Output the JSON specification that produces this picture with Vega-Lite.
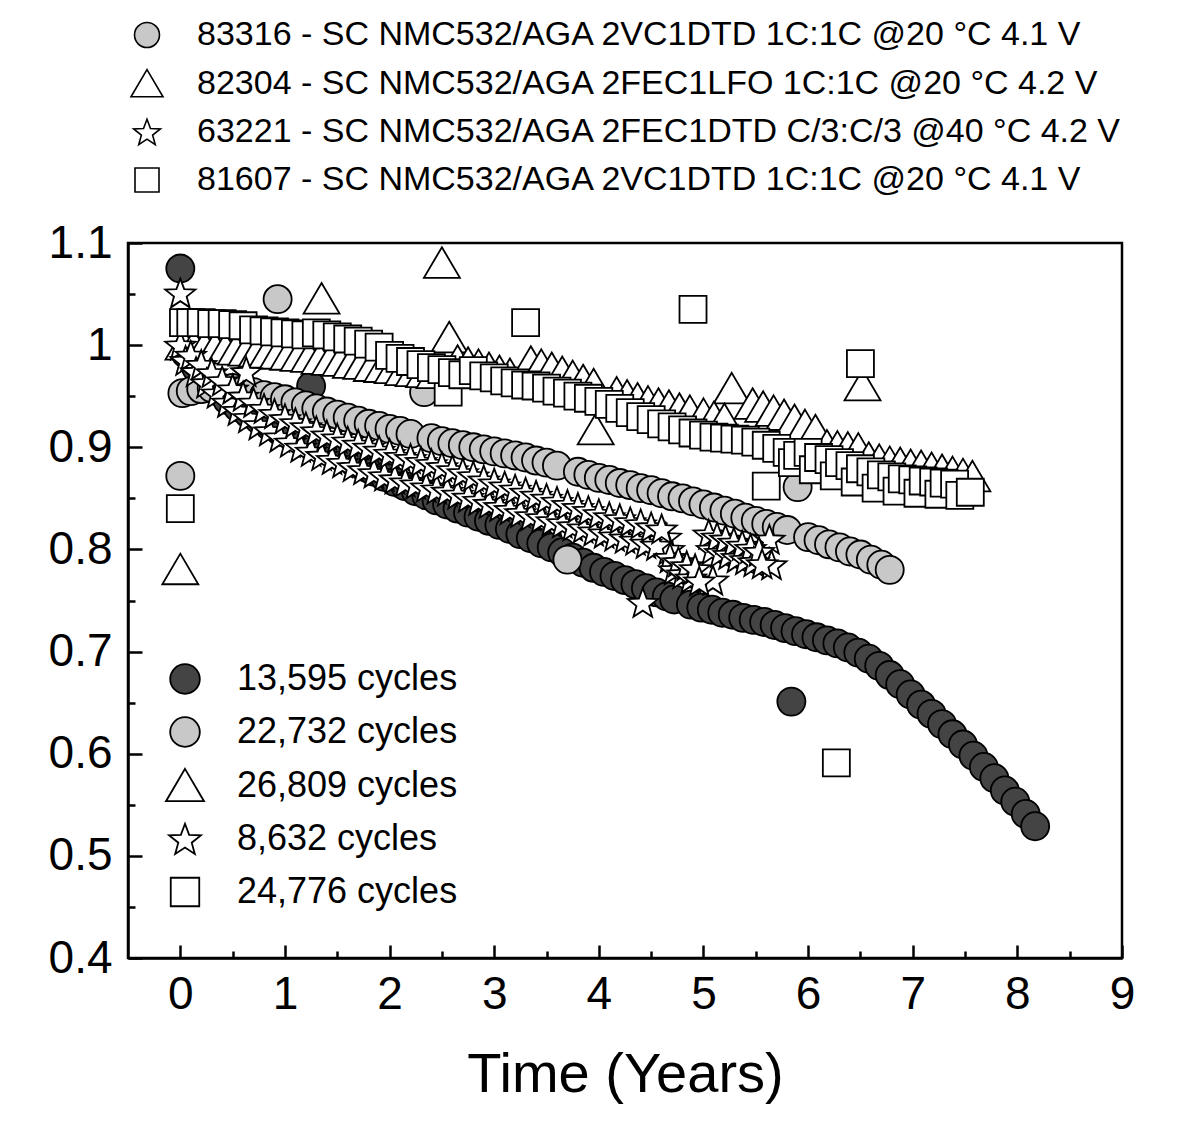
{
  "$schema": "https://vega.github.io/schema/vega-lite/v6.json",
  "description": "Capacity retention versus time for five cells",
  "width": 994,
  "height": 715,
  "autosize": {"type": "none"},
  "padding": {"left": 128, "top": 243, "right": 78, "bottom": 171},
  "background": "white",
  "data": {
    "values": [
      {"s":"a","t":0,"v":1.075},{"s":"a","t":1.25,"v":0.96},{"s":"a","t":5.84,"v":0.651},
      {"s":"a","t":0.05,"v":0.992},{"s":"a","t":0.15,"v":0.978},{"s":"a","t":0.25,"v":0.965},{"s":"a","t":0.35,"v":0.955},
      {"s":"a","t":0.45,"v":0.946},{"s":"a","t":0.55,"v":0.939},{"s":"a","t":0.65,"v":0.933},{"s":"a","t":0.75,"v":0.927},
      {"s":"a","t":0.85,"v":0.921},{"s":"a","t":0.95,"v":0.916},{"s":"a","t":1.05,"v":0.912},{"s":"a","t":1.15,"v":0.907},
      {"s":"a","t":1.35,"v":0.899},{"s":"a","t":1.45,"v":0.895},{"s":"a","t":1.55,"v":0.891},{"s":"a","t":1.65,"v":0.886},
      {"s":"a","t":1.75,"v":0.881},{"s":"a","t":1.85,"v":0.876},{"s":"a","t":1.95,"v":0.871},{"s":"a","t":2.05,"v":0.866},
      {"s":"a","t":2.15,"v":0.862},{"s":"a","t":2.25,"v":0.857},{"s":"a","t":2.35,"v":0.853},{"s":"a","t":2.45,"v":0.848},
      {"s":"a","t":2.55,"v":0.844},{"s":"a","t":2.65,"v":0.84},{"s":"a","t":2.75,"v":0.836},{"s":"a","t":2.85,"v":0.832},
      {"s":"a","t":2.95,"v":0.828},{"s":"a","t":3.05,"v":0.824},{"s":"a","t":3.15,"v":0.82},{"s":"a","t":3.25,"v":0.815},
      {"s":"a","t":3.35,"v":0.811},{"s":"a","t":3.45,"v":0.806},{"s":"a","t":3.55,"v":0.802},{"s":"a","t":3.65,"v":0.797},
      {"s":"a","t":3.75,"v":0.792},{"s":"a","t":3.85,"v":0.787},{"s":"a","t":3.95,"v":0.782},{"s":"a","t":4.05,"v":0.778},
      {"s":"a","t":4.15,"v":0.774},{"s":"a","t":4.25,"v":0.77},{"s":"a","t":4.35,"v":0.766},{"s":"a","t":4.45,"v":0.762},
      {"s":"a","t":4.55,"v":0.758},{"s":"a","t":4.65,"v":0.754},{"s":"a","t":4.72,"v":0.751},{"s":"a","t":4.88,"v":0.746},
      {"s":"a","t":4.98,"v":0.743},{"s":"a","t":5.08,"v":0.741},{"s":"a","t":5.18,"v":0.738},{"s":"a","t":5.28,"v":0.736},
      {"s":"a","t":5.38,"v":0.733},{"s":"a","t":5.48,"v":0.731},{"s":"a","t":5.58,"v":0.729},{"s":"a","t":5.68,"v":0.726},
      {"s":"a","t":5.78,"v":0.723},{"s":"a","t":5.88,"v":0.72},{"s":"a","t":5.98,"v":0.717},{"s":"a","t":6.08,"v":0.714},
      {"s":"a","t":6.18,"v":0.711},{"s":"a","t":6.28,"v":0.708},{"s":"a","t":6.38,"v":0.704},{"s":"a","t":6.48,"v":0.699},
      {"s":"a","t":6.58,"v":0.693},{"s":"a","t":6.68,"v":0.686},{"s":"a","t":6.78,"v":0.677},{"s":"a","t":6.88,"v":0.668},
      {"s":"a","t":6.98,"v":0.658},{"s":"a","t":7.08,"v":0.648},{"s":"a","t":7.18,"v":0.639},{"s":"a","t":7.28,"v":0.629},
      {"s":"a","t":7.38,"v":0.619},{"s":"a","t":7.48,"v":0.609},{"s":"a","t":7.58,"v":0.598},{"s":"a","t":7.68,"v":0.587},
      {"s":"a","t":7.78,"v":0.576},{"s":"a","t":7.88,"v":0.564},{"s":"a","t":7.98,"v":0.553},{"s":"a","t":8.08,"v":0.541},
      {"s":"a","t":8.17,"v":0.529},

      {"s":"b","t":0,"v":0.872},{"s":"b","t":0.93,"v":1.045},{"s":"b","t":2.33,"v":0.954},{"s":"b","t":3.7,"v":0.79},{"s":"b","t":5.9,"v":0.861},
      {"s":"b","t":0.02,"v":0.953},{"s":"b","t":0.1,"v":0.955},{"s":"b","t":0.2,"v":0.957},{"s":"b","t":0.3,"v":0.958},
      {"s":"b","t":0.4,"v":0.958},{"s":"b","t":0.5,"v":0.958},{"s":"b","t":0.6,"v":0.956},{"s":"b","t":0.7,"v":0.954},
      {"s":"b","t":0.8,"v":0.951},{"s":"b","t":0.9,"v":0.949},{"s":"b","t":1.0,"v":0.947},{"s":"b","t":1.1,"v":0.944},
      {"s":"b","t":1.2,"v":0.941},{"s":"b","t":1.3,"v":0.938},{"s":"b","t":1.4,"v":0.935},{"s":"b","t":1.5,"v":0.932},
      {"s":"b","t":1.6,"v":0.929},{"s":"b","t":1.7,"v":0.926},{"s":"b","t":1.8,"v":0.923},{"s":"b","t":1.9,"v":0.921},
      {"s":"b","t":2.0,"v":0.918},{"s":"b","t":2.1,"v":0.916},{"s":"b","t":2.2,"v":0.913},{"s":"b","t":2.4,"v":0.909},
      {"s":"b","t":2.5,"v":0.906},{"s":"b","t":2.6,"v":0.904},{"s":"b","t":2.7,"v":0.902},{"s":"b","t":2.8,"v":0.9},
      {"s":"b","t":2.9,"v":0.898},{"s":"b","t":3.0,"v":0.896},{"s":"b","t":3.1,"v":0.894},{"s":"b","t":3.2,"v":0.892},
      {"s":"b","t":3.3,"v":0.89},{"s":"b","t":3.4,"v":0.887},{"s":"b","t":3.5,"v":0.885},{"s":"b","t":3.6,"v":0.882},
      {"s":"b","t":3.8,"v":0.876},{"s":"b","t":3.9,"v":0.873},{"s":"b","t":4.0,"v":0.87},{"s":"b","t":4.1,"v":0.868},
      {"s":"b","t":4.2,"v":0.865},{"s":"b","t":4.3,"v":0.863},{"s":"b","t":4.4,"v":0.86},{"s":"b","t":4.5,"v":0.858},
      {"s":"b","t":4.6,"v":0.855},{"s":"b","t":4.7,"v":0.852},{"s":"b","t":4.8,"v":0.85},{"s":"b","t":4.9,"v":0.847},
      {"s":"b","t":5.0,"v":0.844},{"s":"b","t":5.1,"v":0.841},{"s":"b","t":5.2,"v":0.838},{"s":"b","t":5.3,"v":0.835},
      {"s":"b","t":5.4,"v":0.831},{"s":"b","t":5.5,"v":0.828},{"s":"b","t":5.6,"v":0.825},{"s":"b","t":5.7,"v":0.822},
      {"s":"b","t":5.8,"v":0.819},{"s":"b","t":6.0,"v":0.812},{"s":"b","t":6.1,"v":0.809},{"s":"b","t":6.2,"v":0.805},
      {"s":"b","t":6.3,"v":0.802},{"s":"b","t":6.4,"v":0.798},{"s":"b","t":6.5,"v":0.795},{"s":"b","t":6.6,"v":0.79},
      {"s":"b","t":6.7,"v":0.785},{"s":"b","t":6.78,"v":0.78},

      {"s":"c","t":0,"v":0.78},{"s":"c","t":1.35,"v":1.045},{"s":"c","t":2.5,"v":1.08},{"s":"c","t":2.57,"v":1.007},
      {"s":"c","t":3.97,"v":0.917},{"s":"c","t":5.27,"v":0.957},{"s":"c","t":6.52,"v":0.96},
      {"s":"c","t":0.03,"v":1.0},{"s":"c","t":0.13,"v":0.999},{"s":"c","t":0.23,"v":0.998},{"s":"c","t":0.33,"v":0.997},
      {"s":"c","t":0.43,"v":0.996},{"s":"c","t":0.53,"v":0.995},{"s":"c","t":0.63,"v":0.994},{"s":"c","t":0.73,"v":0.993},
      {"s":"c","t":0.83,"v":0.992},{"s":"c","t":0.93,"v":0.991},{"s":"c","t":1.03,"v":0.99},{"s":"c","t":1.13,"v":0.989},
      {"s":"c","t":1.23,"v":0.988},{"s":"c","t":1.33,"v":0.986},{"s":"c","t":1.43,"v":0.985},{"s":"c","t":1.53,"v":0.984},
      {"s":"c","t":1.63,"v":0.982},{"s":"c","t":1.73,"v":0.981},{"s":"c","t":1.83,"v":0.979},{"s":"c","t":1.93,"v":0.978},
      {"s":"c","t":2.03,"v":0.977},{"s":"c","t":2.13,"v":0.975},{"s":"c","t":2.23,"v":0.974},{"s":"c","t":2.33,"v":0.973},
      {"s":"c","t":2.43,"v":0.972},{"s":"c","t":2.65,"v":0.984},{"s":"c","t":2.75,"v":0.982},{"s":"c","t":2.85,"v":0.98},
      {"s":"c","t":2.95,"v":0.977},{"s":"c","t":3.05,"v":0.974},{"s":"c","t":3.15,"v":0.971},{"s":"c","t":3.35,"v":0.983},
      {"s":"c","t":3.45,"v":0.98},{"s":"c","t":3.55,"v":0.977},{"s":"c","t":3.65,"v":0.973},{"s":"c","t":3.75,"v":0.969},
      {"s":"c","t":3.85,"v":0.965},{"s":"c","t":3.95,"v":0.961},{"s":"c","t":4.17,"v":0.953},{"s":"c","t":4.27,"v":0.95},
      {"s":"c","t":4.37,"v":0.947},{"s":"c","t":4.47,"v":0.944},{"s":"c","t":4.57,"v":0.942},{"s":"c","t":4.67,"v":0.94},
      {"s":"c","t":4.77,"v":0.937},{"s":"c","t":4.87,"v":0.935},{"s":"c","t":5.0,"v":0.932},{"s":"c","t":5.1,"v":0.929},
      {"s":"c","t":5.2,"v":0.927},{"s":"c","t":5.47,"v":0.942},{"s":"c","t":5.57,"v":0.939},{"s":"c","t":5.67,"v":0.935},
      {"s":"c","t":5.77,"v":0.931},{"s":"c","t":5.87,"v":0.926},{"s":"c","t":5.97,"v":0.921},{"s":"c","t":6.07,"v":0.916},
      {"s":"c","t":6.18,"v":0.901},{"s":"c","t":6.28,"v":0.9},{"s":"c","t":6.38,"v":0.899},{"s":"c","t":6.48,"v":0.898},
      {"s":"c","t":6.58,"v":0.889},{"s":"c","t":6.68,"v":0.887},{"s":"c","t":6.78,"v":0.885},{"s":"c","t":6.88,"v":0.884},
      {"s":"c","t":6.98,"v":0.882},{"s":"c","t":7.08,"v":0.881},{"s":"c","t":7.18,"v":0.879},{"s":"c","t":7.28,"v":0.877},
      {"s":"c","t":7.38,"v":0.875},{"s":"c","t":7.48,"v":0.873},{"s":"c","t":7.57,"v":0.871},

      {"s":"d","t":0,"v":1.051},{"s":"d","t":0.63,"v":0.974},{"s":"d","t":4.42,"v":0.748},{"s":"d","t":4.64,"v":0.812},
      {"s":"d","t":4.67,"v":0.8},{"s":"d","t":5.09,"v":0.77},{"s":"d","t":5.63,"v":0.81},{"s":"d","t":5.65,"v":0.785},
      {"s":"d","t":0.0,"v":1.0},{"s":"d","t":0.05,"v":0.985},{"s":"d","t":0.1,"v":0.99},{"s":"d","t":0.15,"v":0.974},
      {"s":"d","t":0.2,"v":0.981},{"s":"d","t":0.25,"v":0.963},{"s":"d","t":0.3,"v":0.973},{"s":"d","t":0.35,"v":0.953},
      {"s":"d","t":0.4,"v":0.965},{"s":"d","t":0.45,"v":0.944},{"s":"d","t":0.5,"v":0.957},{"s":"d","t":0.55,"v":0.936},
      {"s":"d","t":0.6,"v":0.95},{"s":"d","t":0.65,"v":0.929},{"s":"d","t":0.7,"v":0.944},{"s":"d","t":0.75,"v":0.922},
      {"s":"d","t":0.8,"v":0.938},{"s":"d","t":0.85,"v":0.916},{"s":"d","t":0.9,"v":0.933},{"s":"d","t":0.95,"v":0.91},
      {"s":"d","t":1.0,"v":0.928},{"s":"d","t":1.05,"v":0.905},{"s":"d","t":1.1,"v":0.924},{"s":"d","t":1.15,"v":0.9},
      {"s":"d","t":1.2,"v":0.92},{"s":"d","t":1.25,"v":0.896},{"s":"d","t":1.3,"v":0.916},{"s":"d","t":1.35,"v":0.892},
      {"s":"d","t":1.4,"v":0.912},{"s":"d","t":1.45,"v":0.888},{"s":"d","t":1.5,"v":0.909},{"s":"d","t":1.55,"v":0.885},
      {"s":"d","t":1.6,"v":0.906},{"s":"d","t":1.65,"v":0.881},{"s":"d","t":1.7,"v":0.903},{"s":"d","t":1.75,"v":0.878},
      {"s":"d","t":1.8,"v":0.9},{"s":"d","t":1.85,"v":0.875},{"s":"d","t":1.9,"v":0.897},{"s":"d","t":1.95,"v":0.872},
      {"s":"d","t":2.0,"v":0.894},{"s":"d","t":2.05,"v":0.869},{"s":"d","t":2.1,"v":0.891},{"s":"d","t":2.15,"v":0.866},
      {"s":"d","t":2.2,"v":0.889},{"s":"d","t":2.25,"v":0.864},{"s":"d","t":2.3,"v":0.886},{"s":"d","t":2.35,"v":0.861},
      {"s":"d","t":2.4,"v":0.884},{"s":"d","t":2.45,"v":0.859},{"s":"d","t":2.5,"v":0.881},{"s":"d","t":2.55,"v":0.857},
      {"s":"d","t":2.6,"v":0.878},{"s":"d","t":2.65,"v":0.854},{"s":"d","t":2.7,"v":0.875},{"s":"d","t":2.75,"v":0.851},
      {"s":"d","t":2.8,"v":0.872},{"s":"d","t":2.85,"v":0.848},{"s":"d","t":2.9,"v":0.868},{"s":"d","t":2.95,"v":0.845},
      {"s":"d","t":3.0,"v":0.865},{"s":"d","t":3.05,"v":0.842},{"s":"d","t":3.1,"v":0.862},{"s":"d","t":3.15,"v":0.839},
      {"s":"d","t":3.2,"v":0.859},{"s":"d","t":3.25,"v":0.836},{"s":"d","t":3.3,"v":0.856},{"s":"d","t":3.35,"v":0.833},
      {"s":"d","t":3.4,"v":0.853},{"s":"d","t":3.45,"v":0.831},{"s":"d","t":3.5,"v":0.85},{"s":"d","t":3.55,"v":0.828},
      {"s":"d","t":3.6,"v":0.847},{"s":"d","t":3.65,"v":0.826},{"s":"d","t":3.7,"v":0.844},{"s":"d","t":3.75,"v":0.823},
      {"s":"d","t":3.8,"v":0.841},{"s":"d","t":3.85,"v":0.821},{"s":"d","t":3.9,"v":0.838},{"s":"d","t":3.95,"v":0.818},
      {"s":"d","t":4.0,"v":0.835},{"s":"d","t":4.05,"v":0.816},{"s":"d","t":4.1,"v":0.832},{"s":"d","t":4.15,"v":0.813},
      {"s":"d","t":4.2,"v":0.83},{"s":"d","t":4.25,"v":0.811},{"s":"d","t":4.3,"v":0.827},{"s":"d","t":4.35,"v":0.809},
      {"s":"d","t":4.4,"v":0.825},{"s":"d","t":4.45,"v":0.806},{"s":"d","t":4.5,"v":0.822},{"s":"d","t":4.55,"v":0.804},
      {"s":"d","t":4.6,"v":0.82},
      {"s":"d","t":4.68,"v":0.792},{"s":"d","t":4.72,"v":0.78},{"s":"d","t":4.76,"v":0.788},{"s":"d","t":4.8,"v":0.776},
      {"s":"d","t":4.84,"v":0.784},{"s":"d","t":4.88,"v":0.772},{"s":"d","t":4.92,"v":0.781},{"s":"d","t":4.96,"v":0.769},
      {"s":"d","t":5.05,"v":0.815},{"s":"d","t":5.08,"v":0.8},{"s":"d","t":5.13,"v":0.812},{"s":"d","t":5.16,"v":0.797},
      {"s":"d","t":5.21,"v":0.81},{"s":"d","t":5.24,"v":0.795},{"s":"d","t":5.29,"v":0.807},{"s":"d","t":5.32,"v":0.792},
      {"s":"d","t":5.37,"v":0.804},{"s":"d","t":5.4,"v":0.79},{"s":"d","t":5.45,"v":0.801},{"s":"d","t":5.48,"v":0.788},
      {"s":"d","t":5.53,"v":0.798},{"s":"d","t":5.56,"v":0.786},

      {"s":"e","t":0,"v":0.84},{"s":"e","t":2.56,"v":0.954},{"s":"e","t":3.3,"v":1.022},{"s":"e","t":4.9,"v":1.035},
      {"s":"e","t":5.6,"v":0.862},{"s":"e","t":6.27,"v":0.591},{"s":"e","t":6.5,"v":0.982},
      {"s":"e","t":0.03,"v":1.022},{"s":"e","t":0.1,"v":1.022},{"s":"e","t":0.2,"v":1.022},{"s":"e","t":0.3,"v":1.021},
      {"s":"e","t":0.4,"v":1.021},{"s":"e","t":0.5,"v":1.02},{"s":"e","t":0.6,"v":1.019},{"s":"e","t":0.7,"v":1.015},
      {"s":"e","t":0.8,"v":1.014},{"s":"e","t":0.9,"v":1.013},{"s":"e","t":1.0,"v":1.012},{"s":"e","t":1.1,"v":1.011},
      {"s":"e","t":1.2,"v":1.01},{"s":"e","t":1.3,"v":1.012},{"s":"e","t":1.4,"v":1.01},{"s":"e","t":1.5,"v":1.008},
      {"s":"e","t":1.6,"v":1.006},{"s":"e","t":1.7,"v":1.004},{"s":"e","t":1.8,"v":1.001},{"s":"e","t":1.9,"v":0.998},
      {"s":"e","t":2.0,"v":0.99},{"s":"e","t":2.1,"v":0.987},{"s":"e","t":2.2,"v":0.984},{"s":"e","t":2.3,"v":0.981},
      {"s":"e","t":2.4,"v":0.978},{"s":"e","t":2.5,"v":0.976},{"s":"e","t":2.6,"v":0.973},{"s":"e","t":2.7,"v":0.971},
      {"s":"e","t":2.8,"v":0.975},{"s":"e","t":2.9,"v":0.97},{"s":"e","t":3.0,"v":0.968},{"s":"e","t":3.1,"v":0.965},
      {"s":"e","t":3.2,"v":0.963},{"s":"e","t":3.3,"v":0.961},{"s":"e","t":3.4,"v":0.96},{"s":"e","t":3.5,"v":0.958},
      {"s":"e","t":3.6,"v":0.955},{"s":"e","t":3.7,"v":0.953},{"s":"e","t":3.8,"v":0.95},{"s":"e","t":3.9,"v":0.948},
      {"s":"e","t":4.0,"v":0.945},{"s":"e","t":4.1,"v":0.942},{"s":"e","t":4.2,"v":0.938},{"s":"e","t":4.3,"v":0.934},
      {"s":"e","t":4.4,"v":0.93},{"s":"e","t":4.5,"v":0.927},{"s":"e","t":4.6,"v":0.923},{"s":"e","t":4.7,"v":0.92},
      {"s":"e","t":4.8,"v":0.917},{"s":"e","t":4.9,"v":0.914},{"s":"e","t":5.0,"v":0.912},{"s":"e","t":5.1,"v":0.91},
      {"s":"e","t":5.2,"v":0.909},{"s":"e","t":5.3,"v":0.908},{"s":"e","t":5.4,"v":0.907},{"s":"e","t":5.5,"v":0.905},
      {"s":"e","t":5.6,"v":0.902},{"s":"e","t":5.7,"v":0.899},{"s":"e","t":5.8,"v":0.895},{"s":"e","t":5.85,"v":0.885},
      {"s":"e","t":5.9,"v":0.892},{"s":"e","t":6.0,"v":0.895},{"s":"e","t":6.05,"v":0.878},{"s":"e","t":6.1,"v":0.89},
      {"s":"e","t":6.2,"v":0.888},{"s":"e","t":6.25,"v":0.872},{"s":"e","t":6.3,"v":0.885},{"s":"e","t":6.4,"v":0.882},
      {"s":"e","t":6.45,"v":0.866},{"s":"e","t":6.5,"v":0.879},{"s":"e","t":6.6,"v":0.876},{"s":"e","t":6.65,"v":0.86},
      {"s":"e","t":6.7,"v":0.873},{"s":"e","t":6.8,"v":0.871},{"s":"e","t":6.85,"v":0.857},{"s":"e","t":6.9,"v":0.869},
      {"s":"e","t":7.0,"v":0.868},{"s":"e","t":7.05,"v":0.855},{"s":"e","t":7.1,"v":0.867},{"s":"e","t":7.2,"v":0.866},
      {"s":"e","t":7.25,"v":0.854},{"s":"e","t":7.3,"v":0.865},{"s":"e","t":7.4,"v":0.864},{"s":"e","t":7.45,"v":0.853},
      {"s":"e","t":7.55,"v":0.856}
    ]
  },
  "layer": [
    {
      "mark": {"type": "point", "filled": true, "opacity": 1, "stroke": "black", "strokeWidth": 1.8, "size": 1296},
      "encoding": {
        "x": {
          "field": "t", "type": "quantitative",
          "scale": {"domain": [-0.5, 9], "nice": false, "zero": false},
          "axis": {
            "orient": "bottom", "values": [0, 1, 2, 3, 4, 5, 6, 7, 8, 9], "format": "d", "labelFlush": false,
            "tickSize": -13, "labelPadding": 27, "title": "Time (Years)", "titlePadding": 30
          }
        },
        "y": {
          "field": "v", "type": "quantitative",
          "scale": {"domain": [0.4, 1.1], "nice": false, "zero": false},
          "axis": {
            "orient": "left", "values": [0.4, 0.5, 0.6, 0.7, 0.8, 0.9, 1.0, 1.1], "format": ".2~f", "labelFlush": false,
            "tickSize": -14, "labelPadding": 30, "title": null
          }
        },
        "shape": {
          "field": "s", "type": "nominal",
          "scale": {
            "domain": ["a", "b", "c", "d", "e"],
            "range": [
              "M-0.78,0A0.78,0.78,0,1,1,0.78,0A0.78,0.78,0,1,1,-0.78,0Z",
              "M-0.78,0A0.78,0.78,0,1,1,0.78,0A0.78,0.78,0,1,1,-0.78,0Z",
              "M0,-0.9L1,0.8L-1,0.8Z",
              "M0,-0.8L0.217,-0.219L0.837,-0.192L0.352,0.194L0.517,0.792L0,0.45L-0.517,0.792L-0.352,0.194L-0.837,-0.192L-0.217,-0.219Z",
              "M-0.75,-0.75H0.75V0.75H-0.75Z"
            ]
          },
          "legend": {
            "orient": "none", "legendX": 37, "legendY": 416, "title": null,
            "symbolSize": 1444, "labelOffset": 32, "rowPadding": 14, "labelFontSize": 36,
            "symbolStrokeColor": "black", "symbolStrokeWidth": 1.8,
            "encode": {"symbols": {"update": {"stroke": {"value": "black"}, "strokeWidth": {"value": 1.8}}}},
            "labelExpr": "datum.value == 'a' ? '13,595 cycles' : datum.value == 'b' ? '22,732 cycles' : datum.value == 'c' ? '26,809 cycles' : datum.value == 'd' ? '8,632 cycles' : '24,776 cycles'"
          }
        },
        "fill": {
          "field": "s", "type": "nominal",
          "scale": {"domain": ["a", "b", "c", "d", "e"], "range": ["#444444", "#c8c8c8", "white", "white", "white"]},
          "legend": {
            "orient": "none", "legendX": 37, "legendY": 416, "title": null,
            "symbolSize": 1444, "labelOffset": 32, "rowPadding": 14, "labelFontSize": 36,
            "symbolStrokeColor": "black", "symbolStrokeWidth": 1.8,
            "encode": {"symbols": {"update": {"stroke": {"value": "black"}, "strokeWidth": {"value": 1.8}}}},
            "labelExpr": "datum.value == 'a' ? '13,595 cycles' : datum.value == 'b' ? '22,732 cycles' : datum.value == 'c' ? '26,809 cycles' : datum.value == 'd' ? '8,632 cycles' : '24,776 cycles'"
          }
        }
      }
    },
    {
      "transform": [{"filter": "datum.s != 'a'"}],
      "mark": {"type": "point", "filled": true, "opacity": 0, "stroke": "black", "strokeWidth": 1.8, "size": 1296},
      "encoding": {
        "x": {
          "field": "t", "type": "quantitative",
          "axis": {
            "orient": "bottom", "values": [0.5, 1.5, 2.5, 3.5, 4.5, 5.5, 6.5, 7.5, 8.5],
            "tickSize": -7, "labels": false, "domain": false, "title": null
          }
        },
        "y": {
          "field": "v", "type": "quantitative",
          "axis": {
            "orient": "left", "values": [0.45, 0.55, 0.65, 0.75, 0.85, 0.95, 1.05],
            "tickSize": -7, "labels": false, "domain": false, "title": null
          }
        },
        "shape": {
          "field": "s", "type": "nominal",
          "scale": {
            "domain": ["b", "c", "d", "e"],
            "range": [
              "M-0.78,0A0.78,0.78,0,1,1,0.78,0A0.78,0.78,0,1,1,-0.78,0Z",
              "M0,-0.9L1,0.8L-1,0.8Z",
              "M0,-0.8L0.217,-0.219L0.837,-0.192L0.352,0.194L0.517,0.792L0,0.45L-0.517,0.792L-0.352,0.194L-0.837,-0.192L-0.217,-0.219Z",
              "M-0.75,-0.75H0.75V0.75H-0.75Z"
            ]
          },
          "legend": {
            "orient": "none", "legendX": 2, "legendY": -225, "title": null,
            "symbolSize": 1024, "labelOffset": 33, "rowPadding": 14, "labelFontSize": 34,
            "symbolStrokeColor": "black", "symbolStrokeWidth": 1.6,
            "encode": {"symbols": {"update": {"stroke": {"value": "black"}, "strokeWidth": {"value": 1.6}, "opacity": {"value": 1}}}},
            "labelExpr": "datum.value == 'b' ? '83316 - SC NMC532/AGA 2VC1DTD 1C:1C @20 °C 4.1 V' : datum.value == 'c' ? '82304 - SC NMC532/AGA 2FEC1LFO 1C:1C @20 °C 4.2 V' : datum.value == 'd' ? '63221 - SC NMC532/AGA 2FEC1DTD C/3:C/3 @40 °C 4.2 V' : '81607 - SC NMC532/AGA 2VC1DTD 1C:1C @20 °C 4.1 V'"
          }
        },
        "fill": {
          "field": "s", "type": "nominal",
          "scale": {"domain": ["b", "c", "d", "e"], "range": ["#c8c8c8", "white", "white", "white"]},
          "legend": {
            "orient": "none", "legendX": 2, "legendY": -225, "title": null,
            "symbolSize": 1024, "labelOffset": 33, "rowPadding": 14, "labelFontSize": 34,
            "symbolStrokeColor": "black", "symbolStrokeWidth": 1.6,
            "encode": {"symbols": {"update": {"stroke": {"value": "black"}, "strokeWidth": {"value": 1.6}, "opacity": {"value": 1}}}},
            "labelExpr": "datum.value == 'b' ? '83316 - SC NMC532/AGA 2VC1DTD 1C:1C @20 °C 4.1 V' : datum.value == 'c' ? '82304 - SC NMC532/AGA 2FEC1LFO 1C:1C @20 °C 4.2 V' : datum.value == 'd' ? '63221 - SC NMC532/AGA 2FEC1DTD C/3:C/3 @40 °C 4.2 V' : '81607 - SC NMC532/AGA 2VC1DTD 1C:1C @20 °C 4.1 V'"
          }
        }
      }
    }
  ],
  "resolve": {
    "scale": {"shape": "independent", "fill": "independent"},
    "axis": {"x": "independent", "y": "independent"}
  },
  "config": {
    "font": "Liberation Sans",
    "view": {"stroke": "black", "strokeWidth": 2.5},
    "axis": {
      "grid": false,
      "domainColor": "black", "domainWidth": 2.5,
      "tickColor": "black", "tickWidth": 2.5,
      "labelFont": "Liberation Sans", "labelFontSize": 46, "labelColor": "black",
      "titleFont": "Liberation Sans", "titleFontSize": 56, "titleFontWeight": "normal", "titleColor": "black"
    },
    "legend": {
      "padding": 0,
      "labelFont": "Liberation Sans", "labelColor": "black", "labelLimit": 1200,
      "symbolOpacity": 1
    }
  }
}
